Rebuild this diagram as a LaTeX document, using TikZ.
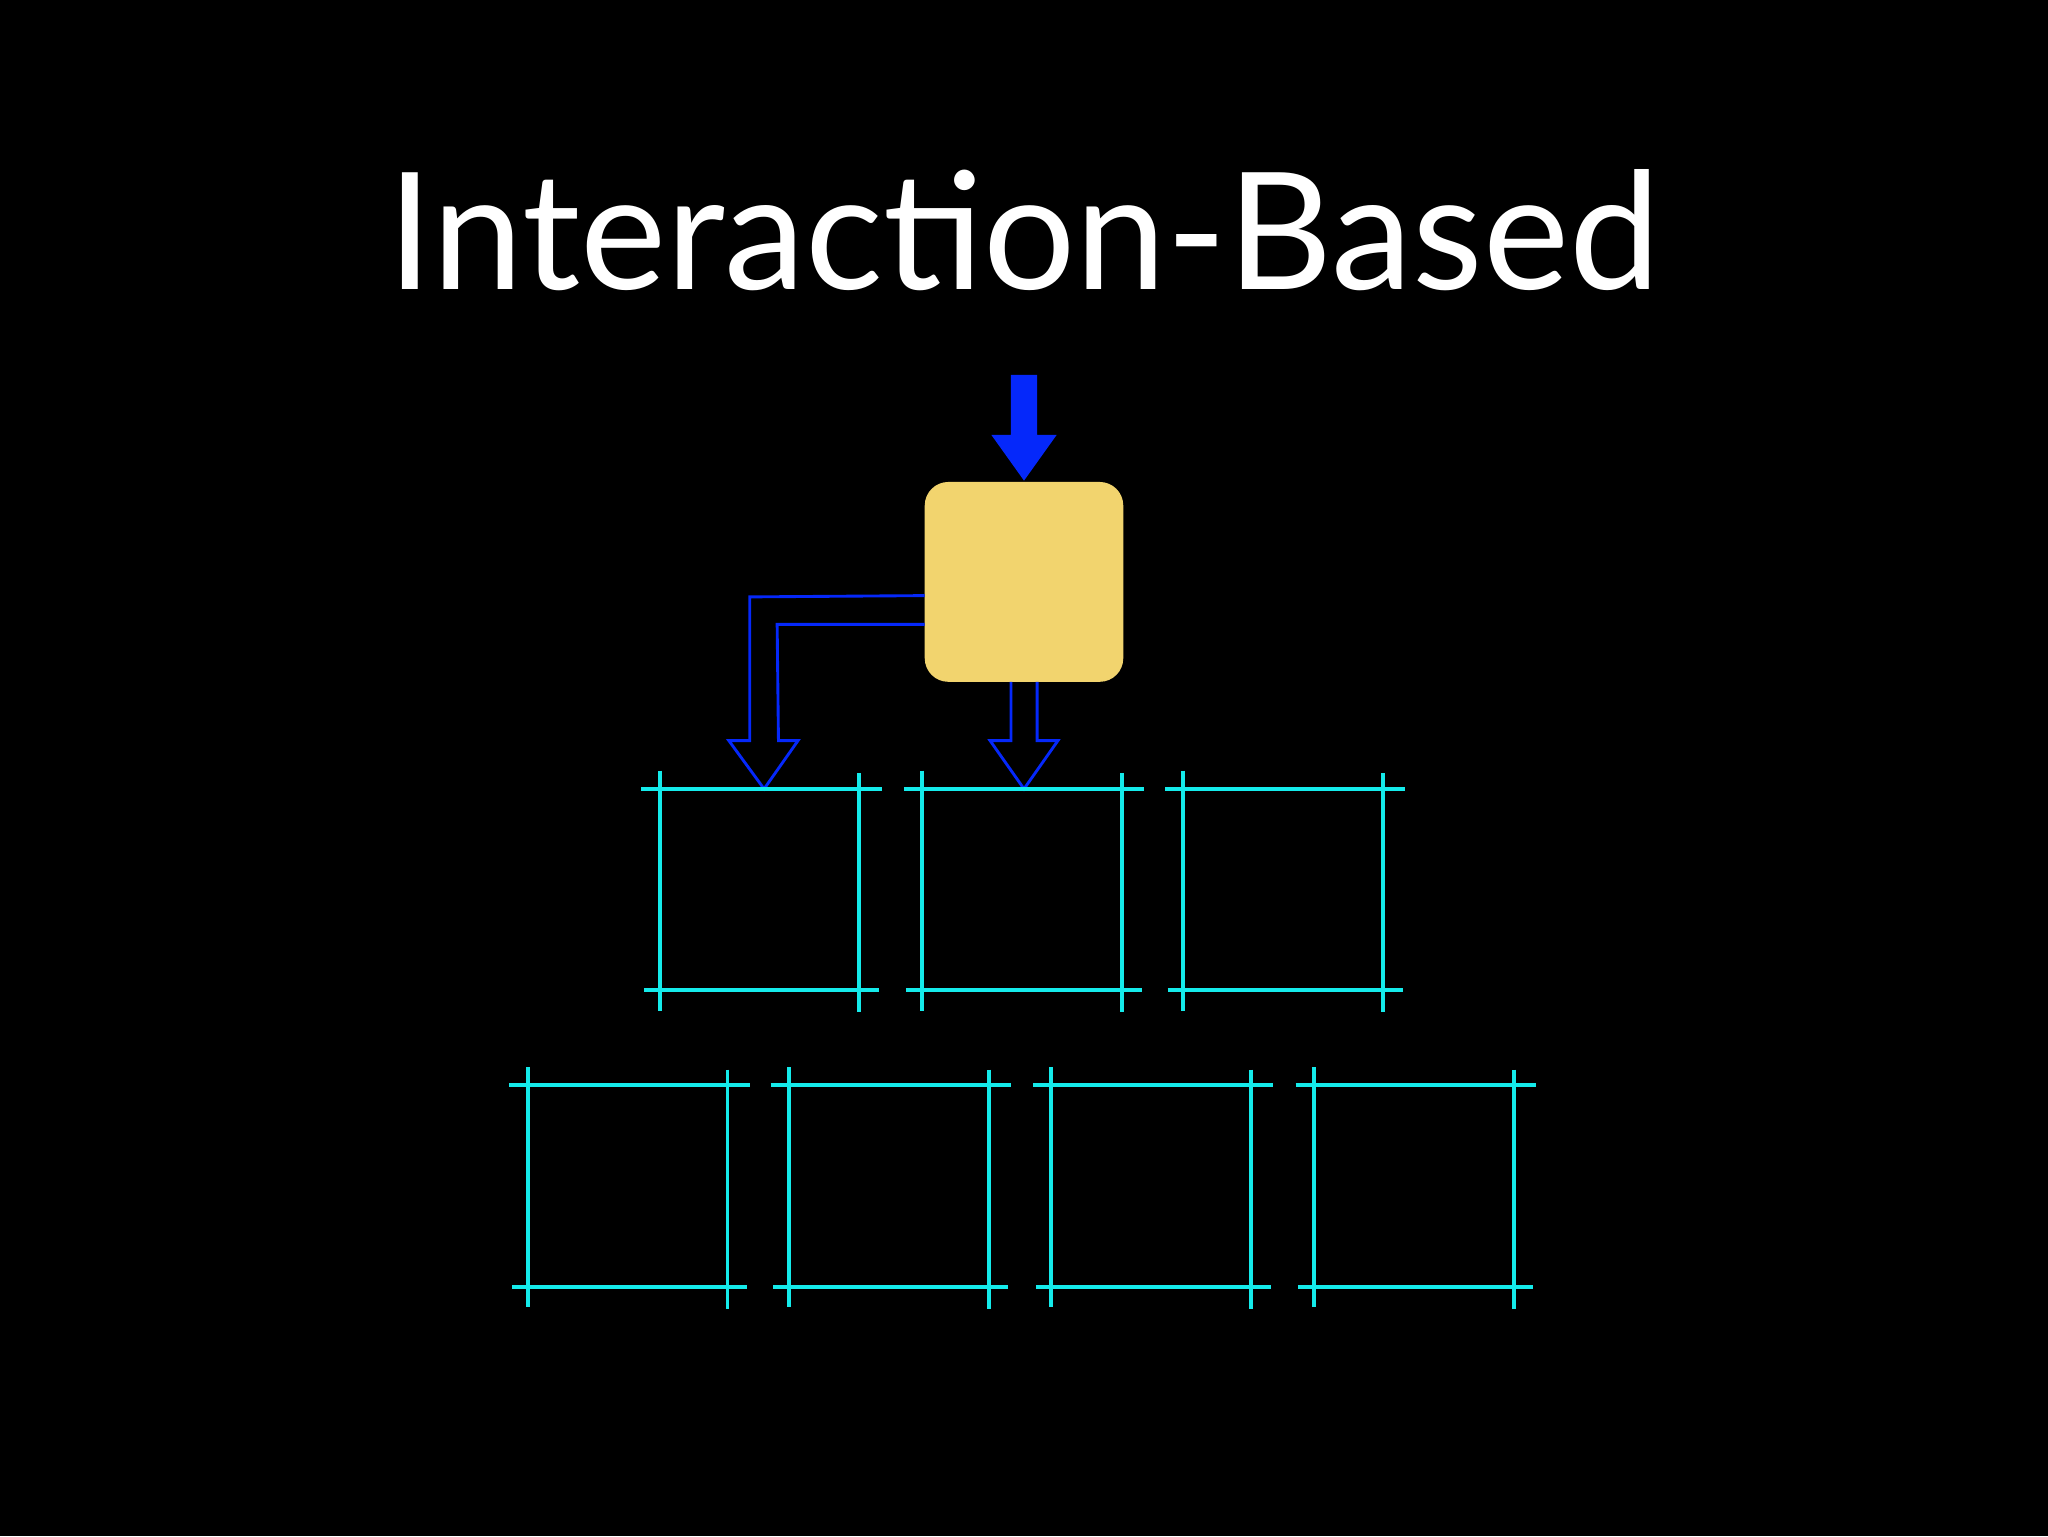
\documentclass[tikz,border=0pt]{standalone}
\usepackage{fontspec}
\setmainfont{Lato}
\definecolor{bgc}{RGB}{0,0,0}
\definecolor{arrblue}{RGB}{5,40,250}
\definecolor{boxy}{RGB}{242,212,110}
\definecolor{cy}{RGB}{20,235,235}
\begin{document}
\begin{tikzpicture}[x=1mm,y=-1mm,
  grid/.style={draw=cy,line width=3mm},
  hollow/.style={draw=arrblue,line width=2.2mm,line join=miter}]
\fill[bgc] (0,0) rectangle (1568,1176);
\useasboundingbox (0,0) rectangle (1568,1176);
\node[text=white,font=\fontsize{355}{400}\selectfont,anchor=base] (title) at (784,222) {Interaction-Based};
% blue solid arrow
\fill[arrblue] (774,287) -- (794,287) -- (794,333) -- (809,333) -- (784,368) -- (759,333) -- (774,333) -- cycle;
% yellow box
\node[fill=boxy,rounded corners=18mm,minimum width=152mm,minimum height=153mm,inner sep=0pt] (box) at (784,445.5) {};
% hollow arrows
\draw[hollow] (box.west |- 0,456) -- (574,457) -- (574,567) -- (558,567) -- (585,604) -- (611,567) -- (596,567) -- (595,478) -- (box.west |- 0,478);
\draw[hollow] (774,522) -- (774,567) -- (758,567) -- (784,604) -- (810,567) -- (794,567) -- (794,522);
% cyan boxes
\foreach \x/\y in {505/604,706/604,906/604,404/831,604/831,805/831,1006/831}{
  \draw[grid] (\x-14,\y) -- (\x+170,\y);
  \draw[grid] (\x-12,\y+154) -- (\x+168,\y+154);
  \draw[grid] (\x,\y-14) -- (\x,\y+170);
  \draw[grid] (\x+153,\y-12) -- (\x+153,\y+171);
}
\end{tikzpicture}
\end{document}
